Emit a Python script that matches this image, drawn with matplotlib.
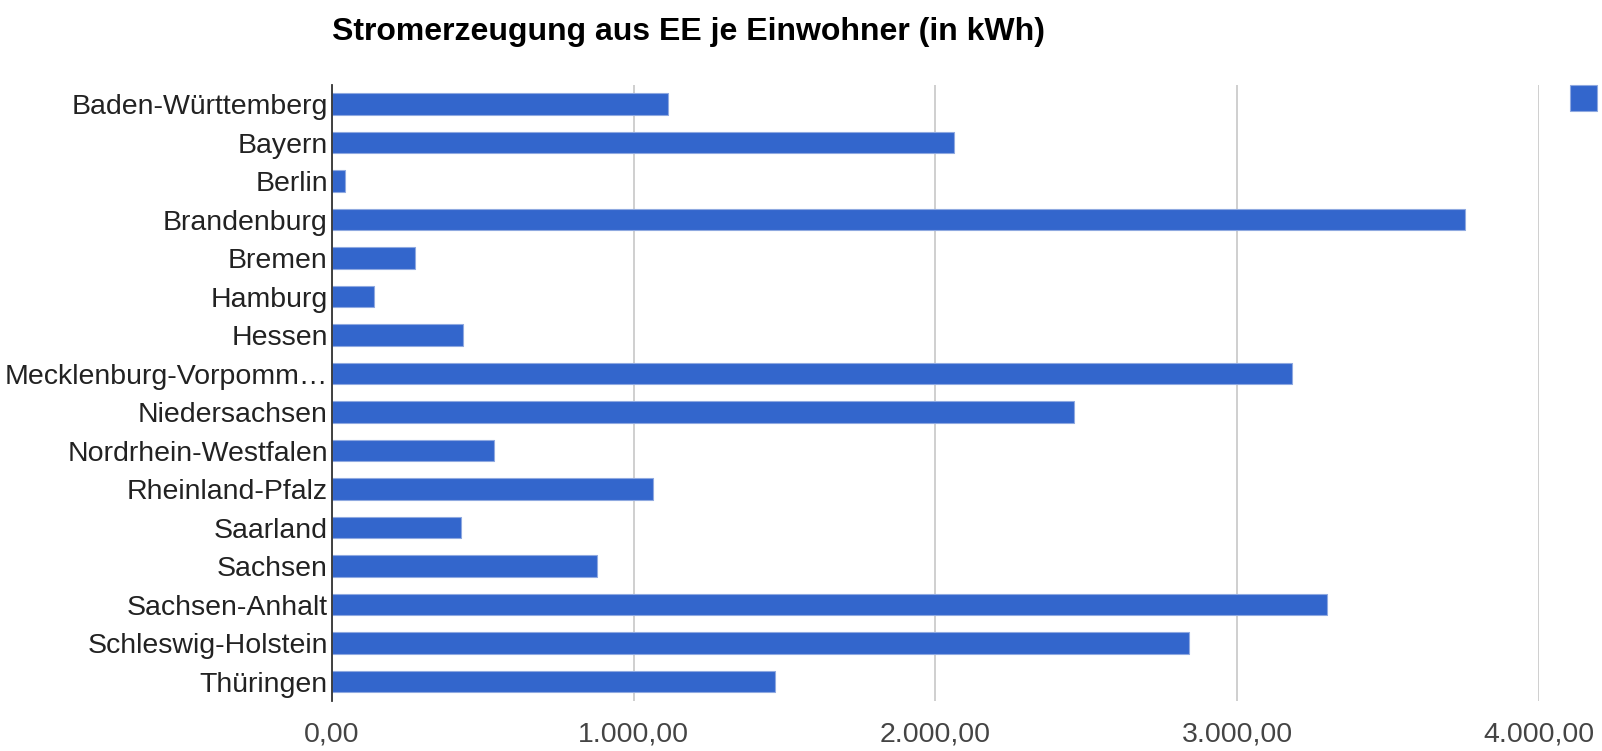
import matplotlib
matplotlib.use("Agg")
import matplotlib.pyplot as plt
from matplotlib.ticker import FuncFormatter
from matplotlib.patches import Rectangle

# Daten: Stromerzeugung aus EE je Einwohner (kWh)
laender = ["Baden-Württemberg", "Bayern", "Berlin", "Brandenburg", "Bremen",
           "Hamburg", "Hessen", "Mecklenburg-Vorpomm…", "Niedersachsen",
           "Nordrhein-Westfalen", "Rheinland-Pfalz", "Saarland", "Sachsen",
           "Sachsen-Anhalt", "Schleswig-Holstein", "Thüringen"]
kwh_je_einwohner = [1112, 2061, 44, 3753, 275, 139, 434, 3183, 2458,
                    536, 1064, 427, 878, 3298, 2840, 1468]
x_ticks = [0, 1000, 2000, 3000, 4000]

plt.rcParams['font.family'] = ['Liberation Sans', 'DejaVu Sans']

fig = plt.figure(figsize=(16.02, 7.51), dpi=100)
ax = fig.add_axes([0.2072, 0.0669, 0.7535, 0.8202])

pos = list(range(len(laender)))
ax.barh(pos, kwh_je_einwohner, height=0.55, color='#3366cc',
        edgecolor='#8fa9e0', linewidth=0.8, zorder=3)

ax.set_ylim(len(laender) - 0.5, -0.5)
ax.set_xlim(0, 4000)
ax.set_yticks(pos)
ax.set_yticklabels(laender, fontsize=20.5, color='#222222')

# deutsches Zahlenformat 1.000,00
def de_fmt(v, p):
    s = "{:,.2f}".format(v)
    return s.replace(",", "X").replace(".", ",").replace("X", ".")

ax.set_xticks(x_ticks)
ax.xaxis.set_major_formatter(FuncFormatter(de_fmt))
ax.tick_params(axis='x', labelsize=20.5, labelcolor='#444444', length=0, pad=15)
ax.tick_params(axis='y', length=0, pad=3)

ax.xaxis.grid(True, color='#cccccc', linewidth=1.3, zorder=0)
ax.set_axisbelow(True)
for s in ['top', 'right', 'bottom']:
    ax.spines[s].set_visible(False)
ax.spines['left'].set_color('#333333')
ax.spines['left'].set_linewidth(1.3)
ax.spines['left'].set_zorder(4)

fig.text(0.2072, 0.958, "Stromerzeugung aus EE je Einwohner (in kWh)",
         fontsize=23, fontweight='bold', color='black', va='center', ha='left')

# Legende ohne Beschriftung
fig.patches.append(Rectangle((1570 / 1602, 1 - 111 / 751), 27 / 1602, 26 / 751,
                             transform=fig.transFigure, facecolor='#3366cc',
                             edgecolor='#8fa9e0', linewidth=0.8))

plt.savefig("out.png", dpi=100)
